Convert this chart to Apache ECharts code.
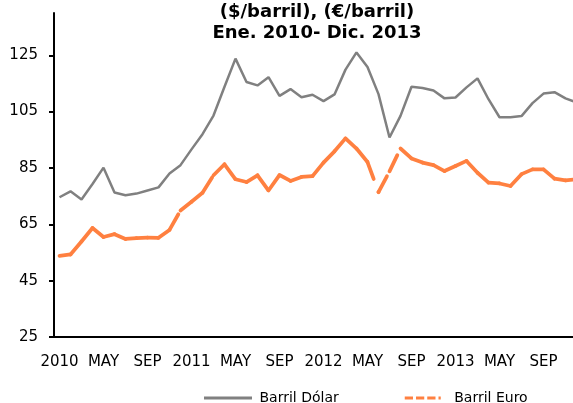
<!DOCTYPE html>
<html lang="es">
<head>
    <meta charset="UTF-8">
    <title>Barril Dólar / Barril Euro</title>
    <script src="https://cdn.jsdelivr.net/npm/echarts@6.0.0/dist/echarts.min.js"></script>
    <style>
        body {
            margin: 0;
            background: #ffffff;
        }
        #chart {
            width: 573px;
            height: 403px;
        }
    </style>
</head>
<body>
    <div id="chart"></div>
    <script>
        const anios = ['2010', '2011', '2012', '2013'];
        const meses = ['ENE', 'FEB', 'MAR', 'ABR', 'MAY', 'JUN', 'JUL', 'AGO', 'SEP', 'OCT', 'NOV', 'DIC'];
        const yTicks = [25, 45, 65, 85, 105, 125];

        const dolar = [74.6, 76.7, 73.8, 79.3, 85.1, 76.3, 75.3, 75.9, 77.0, 78.1,
            83.0, 86.0, 91.6, 97.0, 103.6, 113.8, 123.8, 115.5, 114.3, 117.2,
            110.6, 113.0, 110.1, 111.0, 108.7, 111.1, 119.9, 126.0, 120.8, 111.2,
            95.8, 103.5, 113.8, 113.4, 112.5, 109.7, 110.0, 113.6, 116.8, 109.4,
            103.0, 103.0, 103.4, 108.0, 111.4, 111.9, 109.7, 108.3];

        const euro = [53.8, 54.3, 58.9, 63.7, 60.5, 61.5, 59.8, 60.1, 60.3, 60.2,
            63.0, 69.9, 73.0, 76.2, 82.4, 86.3, 81.0, 80.0, 82.4, 77.0,
            82.5, 80.4, 81.8, 82.1, 86.9, 90.9, 95.5, 91.9, 87.1, 76.4,
            83.8, 91.9, 88.4, 86.9, 86.0, 83.9, 85.7, 87.5, 83.3, 79.8,
            79.5, 78.6, 82.8, 84.5, 84.5, 81.2, 80.6, 81.0];

        // el primer mes de cada año se rotula con el año
        const categorias = [];
        anios.forEach(a => {
            meses.forEach((m, j) => categorias.push(j === 0 ? a : m));
        });

        const GRIS = '#808080';
        const NARANJA = '#ff8040';

        // iconos de leyenda: línea continua y línea discontinua
        const iconoDolar = 'path://M0,0h48v3h-48z';
        const iconoEuro = 'path://M0,0h11v4h-11z M15,0h11v4h-11z M30,0h11v4h-11z M45,0h3v4h-3z';

        // cada tramo con su propio trazo discontinuo (el patrón empieza de nuevo en cada punto)
        const tramosEuro = euro.map((v, i) => [i, v, i + 1 < euro.length ? euro[i + 1] : null]);

        const chart = echarts.init(document.getElementById('chart'));

        chart.setOption({
            animation: false,
            backgroundColor: '#ffffff',
            title: {
                text: '($/barril), (€/barril)\nEne. 2010- Dic. 2013',
                left: 312,
                top: -3,
                textAlign: 'center',
                textStyle: {
                    fontFamily: 'DejaVu Sans',
                    fontSize: 18,
                    fontWeight: 'bold',
                    lineHeight: 21,
                    color: '#000000'
                }
            },
            legend: {
                data: [
                    { name: 'Barril Dólar', icon: iconoDolar },
                    { name: 'Barril Euro', icon: iconoEuro }
                ],
                left: 204,
                top: 391,
                padding: 0,
                itemWidth: 49,
                itemHeight: 3,
                itemGap: 66,
                textStyle: {
                    fontFamily: 'DejaVu Sans',
                    fontSize: 14,
                    color: '#000000',
                    padding: [0, 0, 0, 2]
                }
            },
            grid: {
                left: 54,
                right: -9,
                top: 13,
                bottom: 66,
                containLabel: false,
                outerBoundsMode: 'none'
            },
            xAxis: {
                type: 'category',
                data: categorias,
                boundaryGap: true,
                axisLine: { lineStyle: { color: '#000000', width: 2 } },
                axisTick: {
                    interval: 0,
                    length: 4,
                    lineStyle: { color: '#000000', width: 2 }
                },
                axisLabel: {
                    interval: 3,
                    margin: 18,
                    fontFamily: 'DejaVu Sans',
                    fontSize: 15,
                    color: '#000000'
                },
                splitLine: { show: false }
            },
            yAxis: {
                type: 'value',
                min: 25,
                max: 140,
                interval: 20,
                axisLine: { show: true, lineStyle: { color: '#000000', width: 2 } },
                axisTick: {
                    show: true,
                    length: 5,
                    customValues: yTicks,
                    lineStyle: { color: '#000000', width: 2 }
                },
                axisLabel: {
                    margin: 16,
                    customValues: yTicks,
                    fontFamily: 'DejaVu Sans',
                    fontSize: 15,
                    color: '#000000'
                },
                splitLine: { show: false }
            },
            series: [
                {
                    name: 'Barril Dólar',
                    type: 'line',
                    data: dolar,
                    symbol: 'none',
                    color: GRIS,
                    lineStyle: { color: GRIS, width: 2.5 }
                },
                {
                    // solo para la leyenda
                    name: 'Barril Euro',
                    type: 'line',
                    data: [],
                    symbol: 'none',
                    color: NARANJA,
                    lineStyle: { color: NARANJA, width: 3.5 }
                },
                {
                    name: 'Barril Euro tramos',
                    type: 'custom',
                    data: tramosEuro,
                    encode: { x: 0, y: 1 },
                    renderItem: function (params, api) {
                        const sig = api.value(2);
                        if (isNaN(sig)) {
                            return null;
                        }
                        const i = api.value(0);
                        const p0 = api.coord([i, api.value(1)]);
                        const p1 = api.coord([i + 1, sig]);
                        return {
                            type: 'line',
                            shape: { x1: p0[0], y1: p0[1], x2: p1[0], y2: p1[1] },
                            style: {
                                stroke: NARANJA,
                                lineWidth: 3.75,
                                lineDash: [18, 14],
                                lineCap: 'round'
                            }
                        };
                    }
                }
            ]
        });
    </script>
</body>
</html>
